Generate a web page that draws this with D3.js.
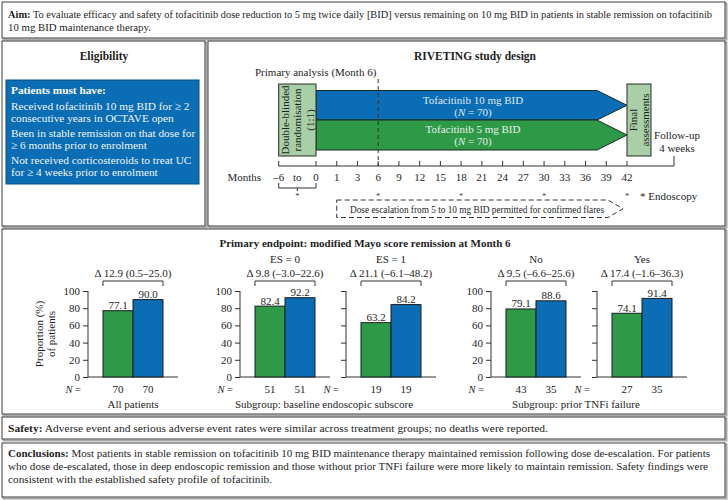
<!DOCTYPE html>
<html><head><meta charset="utf-8">
<script src="https://cdn.jsdelivr.net/npm/d3@7"></script>
<style>
body{margin:0;background:#fff}
svg{display:block}
text{font-family:"Liberation Serif","Times New Roman",serif;fill:#1e1e1e}
</style>
</head><body>
<svg id="c" width="728" height="500"></svg>
<script>
// ---------------- data ----------------
const panelLabels = ["", "ES = 0", "ES = 1", "No", "Yes"];
const deltas = ["Δ 12.9 (0.5–25.0)", "Δ 9.8 (–3.0–22.6)", "Δ 21.1 (–6.1–48.2)", "Δ 9.5 (–6.6–25.6)", "Δ 17.4 (–1.6–36.3)"];
const tofa5 = [77.1, 82.4, 63.2, 79.1, 74.1];
const tofa10 = [90.0, 92.2, 84.2, 88.6, 91.4];
const n5 = [70, 51, 19, 43, 27];
const n10 = [70, 51, 19, 35, 35];
const showTickLabels = [true, true, false, true, false];
const groupLabels = ["All patients", "Subgroup: baseline endoscopic subscore", "Subgroup: prior TNFi failure"];
const yTicks = [0, 20, 40, 60, 80, 100];
const arms = ["5 mg", "10 mg"];
const months = ["0","1","3","6","9","12","15","18","21","24","27","30","33","36","39","42"];
const endoscopyMonths = ["6","18","30","42"];
const eligibility = [
  ["Received tofacitinib 10 mg BID for ≥ 2", "consecutive years in OCTAVE open"],
  ["Been in stable remission on that dose for", "≥ 6 months prior to enrolment"],
  ["Not received corticosteroids to treat UC", "for ≥ 4 weeks prior to enrolment"]
];
const aimText = [
  [["Aim:", true], [" To evaluate efficacy and safety of tofacitinib dose reduction to 5 mg twice daily [BID] versus remaining on 10 mg BID in patients in stable remission on tofacitinib", false]],
  [["10 mg BID maintenance therapy.", false]]
];
const safetyText = [[["Safety:", true], [" Adverse event and serious adverse event rates were similar across treatment groups; no deaths were reported.", false]]];
const conclusionText = [
  [["Conclusions:", true], [" Most patients in stable remission on tofacitinib 10 mg BID maintenance therapy maintained remission following dose de-escalation. For patients", false]],
  [["who dose de-escalated, those in deep endoscopic remission and those without prior TNFi failure were more likely to maintain remission. Safety findings were", false]],
  [["consistent with the established safety profile of tofacitinib.", false]]
];

// ---------------- styles / layout ----------------
const BLUE = "#0b6db3", GREEN = "#2e9a48", SAGE = "#a9cfa7";
const FS = 11;
const svg = d3.select("#c");

function box(x, y, w, h) {
  svg.append("rect").attr("x", x + 1.5).attr("y", y + 1.5).attr("width", w).attr("height", h)
    .attr("fill", "none").attr("stroke", "#a8a8a8").attr("stroke-width", 2);
  svg.append("rect").attr("x", x).attr("y", y).attr("width", w).attr("height", h)
    .attr("fill", "#fff").attr("stroke", "#3c3c3c").attr("stroke-width", 1);
}
function rich(g, x, y, parts, size, fitW) {
  const t = g.append("text").attr("x", x).attr("y", y).attr("font-size", size);
  parts.forEach(p => t.append("tspan").attr("font-weight", p[1] ? "bold" : null).text(p[0]));
  if (fitW) t.attr("textLength", fitW).attr("lengthAdjust", "spacingAndGlyphs");
  return t;
}

// ---------------- Aim ----------------
box(2, 2, 723, 36);
rich(svg, 8, 17.5, aimText[0], 10.4, 704);
rich(svg, 8, 30.5, aimText[1], 10.8);

// ---------------- Eligibility ----------------
box(2, 41, 203, 185);
svg.append("text").attr("x", 104).attr("y", 60).attr("text-anchor", "middle")
  .attr("font-size", 11.5).attr("font-weight", "bold").text("Eligibility");
svg.append("rect").attr("x", 6).attr("y", 80).attr("width", 193).attr("height", 104)
  .attr("fill", BLUE).attr("stroke", "#0a4c80").attr("stroke-width", 1);
svg.append("text").attr("x", 11).attr("y", 94).attr("font-size", 11.3).attr("font-weight", "bold")
  .style("fill", "#fff").text("Patients must have:");
eligibility.forEach((item, i) => {
  item.forEach((ln, j) => {
    svg.append("text").attr("x", 11).attr("y", 109.5 + i * 27 + j * 12).attr("font-size", 11.3)
      .style("fill", "#eef4fa").text(ln);
  });
});

// ---------------- Study design ----------------
box(208, 41, 517, 185);
svg.append("text").attr("x", 475).attr("y", 60).attr("text-anchor", "middle")
  .attr("font-size", 11.5).attr("font-weight", "bold").text("RIVETING study design");

const xm = d3.scalePoint().domain(months).range([316, 627]);
const step = xm.step();
const xNeg6 = xm("0") - 1.8 * step;
const axisY = 166;
const barTop = 90.5, barMid = 120, barBot = 150;
const tipX = xm("42"), shoulderX = xm("42") - 30;

svg.append("text").attr("x", 255).attr("y", 75.5).attr("font-size", FS).text("Primary analysis (Month 6)");

// arms
const armRows = [
  {fill: BLUE, y0: barTop, y1: barMid, l1: "Tofacitinib 10 mg BID", tc: "#dde8f4"},
  {fill: GREEN, y0: barMid, y1: barBot, l1: "Tofacitinib 5 mg BID", tc: "#e3f1e3"}
];
armRows.forEach(r => {
  const ym = (r.y0 + r.y1) / 2;
  svg.append("path").attr("d", `M${xm("0")},${r.y0}L${shoulderX},${r.y0}L${tipX},${ym}L${shoulderX},${r.y1}L${xm("0")},${r.y1}Z`)
    .attr("fill", r.fill).attr("stroke", "#1b2a24").attr("stroke-width", 1);
  svg.append("text").attr("x", 473).attr("y", r.y0 + 13).attr("text-anchor", "middle")
    .attr("font-size", FS).style("fill", r.tc).text(r.l1);
  const t = svg.append("text").attr("x", 473).attr("y", r.y0 + 25).attr("text-anchor", "middle")
    .attr("font-size", FS).style("fill", r.tc);
  t.append("tspan").text("(");
  t.append("tspan").attr("font-style", "italic").text("N");
  t.append("tspan").text(" = 70)");
});

// dashed primary analysis line
svg.append("line").attr("x1", xm("6")).attr("x2", xm("6")).attr("y1", 79).attr("y2", axisY)
  .attr("stroke", "#333").attr("stroke-dasharray", "4,3").attr("stroke-width", 1);

// randomisation box
svg.append("rect").attr("x", xNeg6).attr("y", 84).attr("width", xm("0") - xNeg6).attr("height", 72)
  .attr("fill", SAGE).attr("stroke", "#2a2a2a").attr("stroke-width", 1);
["Double-blinded", "randomisation", "(1:1)"].forEach((s, i) => {
  const cx = xNeg6 + 10 + i * 12.5, cy = 120;
  svg.append("text").attr("transform", `translate(${cx},${cy}) rotate(-90)`)
    .attr("text-anchor", "middle").attr("font-size", FS).text(s);
});
// final assessments box
svg.append("rect").attr("x", tipX).attr("y", 84).attr("width", 24).attr("height", 72)
  .attr("fill", SAGE).attr("stroke", "#2a2a2a").attr("stroke-width", 1);
["Final", "assessments"].forEach((s, i) => {
  const cx = tipX + 10 + i * 12, cy = 120;
  svg.append("text").attr("transform", `translate(${cx},${cy}) rotate(-90)`)
    .attr("text-anchor", "middle").attr("font-size", FS).text(s);
});
svg.append("text").attr("x", 677).attr("y", 139).attr("text-anchor", "middle").attr("font-size", FS).text("Follow-up");
svg.append("text").attr("x", 677).attr("y", 151.5).attr("text-anchor", "middle").attr("font-size", FS).text("4 weeks");

// axis
const endX = 674;
svg.append("line").attr("x1", xNeg6).attr("x2", endX).attr("y1", axisY).attr("y2", axisY).attr("stroke", "#333");
svg.append("line").attr("x1", endX).attr("x2", endX).attr("y1", 156).attr("y2", axisY).attr("stroke", "#333");
[xNeg6].concat(months.map(m => xm(m))).forEach(x => {
  svg.append("line").attr("x1", x).attr("x2", x).attr("y1", axisY - 5).attr("y2", axisY).attr("stroke", "#333");
});
const tickG = svg.append("g").attr("font-size", FS).attr("text-anchor", "middle");
months.forEach(m => tickG.append("text").attr("x", xm(m)).attr("y", 181).text(m));
tickG.append("text").attr("x", xNeg6).attr("y", 181).text("–6");
tickG.append("text").attr("x", (xNeg6 + xm("0")) / 2).attr("y", 181).text("to");
svg.append("text").attr("x", 261).attr("y", 181).attr("text-anchor", "end").attr("font-size", FS).text("Months");
// bracket under -6 to 0
const bx = (xNeg6 + xm("0")) / 2;
svg.append("path").attr("d", `M${xNeg6},183V188H${xm("0")}V183M${bx},188V191`).attr("fill", "none").attr("stroke", "#333");
// endoscopy stars
[bx].concat(endoscopyMonths.map(m => xm(m))).forEach(x => {
  svg.append("text").attr("x", x).attr("y", 199).attr("text-anchor", "middle").attr("font-size", 8.5).style("fill", "#444").text("*");
});
svg.append("text").attr("x", 640).attr("y", 200).attr("font-size", FS).text("* Endoscopy");
// dose escalation dashed arrow
const dx0 = xm("1"), dx1 = 608, dy0 = 200, dy1 = 217.5;
svg.append("path").attr("d", `M${dx0},${dy0}H${dx1}L${dx1 + 15},${(dy0 + dy1) / 2}L${dx1},${dy1}H${dx0}Z`)
  .attr("fill", "none").attr("stroke", "#333").attr("stroke-dasharray", "5,3").attr("stroke-width", 1);
svg.append("text").attr("x", 350).attr("y", 212.5).attr("font-size", 9.8)
  .attr("textLength", 254).attr("lengthAdjust", "spacingAndGlyphs")
  .text("Dose escalation from 5 to 10 mg BID permitted for confirmed flares");

// ---------------- Primary endpoint ----------------
box(2, 229, 723, 185);
svg.append("text").attr("x", 365).attr("y", 246.5).attr("text-anchor", "middle")
  .attr("font-size", 11).attr("font-weight", "bold").text("Primary endpoint: modified Mayo score remission at Month 6");

const panelX = [88, 240, 346, 491, 597];
const y = d3.scaleLinear().domain([0, 100]).range([377, 291]);
const xb = d3.scaleBand().domain(arms).range([15, 75]).paddingInner(0);
const colors = d3.scaleOrdinal().domain(arms).range([GREEN, BLUE]);

panelX.forEach((px, i) => {
  const g = svg.append("g").attr("transform", `translate(${px},0)`);
  const ax = d3.axisLeft(y).tickValues(yTicks).tickSize(5).tickPadding(3)
    .tickFormat(showTickLabels[i] ? d3.format("d") : () => "");
  const ag = g.append("g").call(ax);
  ag.select(".domain").attr("d", `M0,${y(0)}V${y(100)}`).attr("stroke", "#333");
  ag.selectAll(".tick line").attr("stroke", "#333");
  ag.selectAll("text").attr("font-family", '"Liberation Serif", serif').attr("font-size", FS).style("fill", "#1e1e1e");
  g.append("line").attr("x1", 0).attr("x2", 90).attr("y1", y(0)).attr("y2", y(0)).attr("stroke", "#333");
  const vals = [tofa5[i], tofa10[i]];
  const ns = [n5[i], n10[i]];
  arms.forEach((a, k) => {
    g.append("rect").attr("x", xb(a)).attr("y", y(vals[k])).attr("width", xb.bandwidth())
      .attr("height", y(0) - y(vals[k])).attr("fill", colors(a)).attr("stroke", "#1c1c1c").attr("stroke-width", 1);
    g.append("text").attr("x", xb(a) + xb.bandwidth() / 2).attr("y", y(vals[k]) - 1.5)
      .attr("text-anchor", "middle").attr("font-size", FS).text(d3.format(".1f")(vals[k]));
    g.append("text").attr("x", xb(a) + xb.bandwidth() / 2).attr("y", 392.5)
      .attr("text-anchor", "middle").attr("font-size", FS).text(ns[k]);
  });
  const nt = g.append("text").attr("x", -7).attr("y", 392.5).attr("text-anchor", "end").attr("font-size", 10.5);
  nt.append("tspan").attr("font-style", "italic").text("N");
  nt.append("tspan").text(" =");
  // bracket + delta
  const cx = 45;
  g.append("path").attr("d", `M${xb(arms[0])},286V281H${xb(arms[1]) + xb.bandwidth()}V286`)
    .attr("fill", "none").attr("stroke", "#333");
  g.append("text").attr("x", cx).attr("y", 277).attr("text-anchor", "middle").attr("font-size", FS).text(deltas[i]);
  if (panelLabels[i]) g.append("text").attr("x", cx).attr("y", 263).attr("text-anchor", "middle").attr("font-size", FS).text(panelLabels[i]);
});
// y label
const yl = svg.append("text").attr("transform", `translate(43,${(y(0) + y(100)) / 2}) rotate(-90)`)
  .attr("text-anchor", "middle").attr("font-size", FS);
yl.append("tspan").attr("x", 0).attr("dy", 0).text("Proportion (%)");
yl.append("tspan").attr("x", 0).attr("dy", 12).text("of patients");

const groupCenters = [133, 324, 576];
groupLabels.forEach((s, i) => svg.append("text").attr("x", groupCenters[i]).attr("y", 408)
  .attr("text-anchor", "middle").attr("font-size", FS).text(s));

// ---------------- Safety ----------------
box(2, 417, 723, 22);
rich(svg, 8, 431.5, safetyText[0], 11, 540);

// ---------------- Conclusions ----------------
box(2, 443, 723, 54);
rich(svg, 8, 457, conclusionText[0], 10.4, 702);
rich(svg, 8, 470, conclusionText[1], 10.4, 700);
rich(svg, 8, 483, conclusionText[2], 10.8, 264);
</script>
</body></html>
